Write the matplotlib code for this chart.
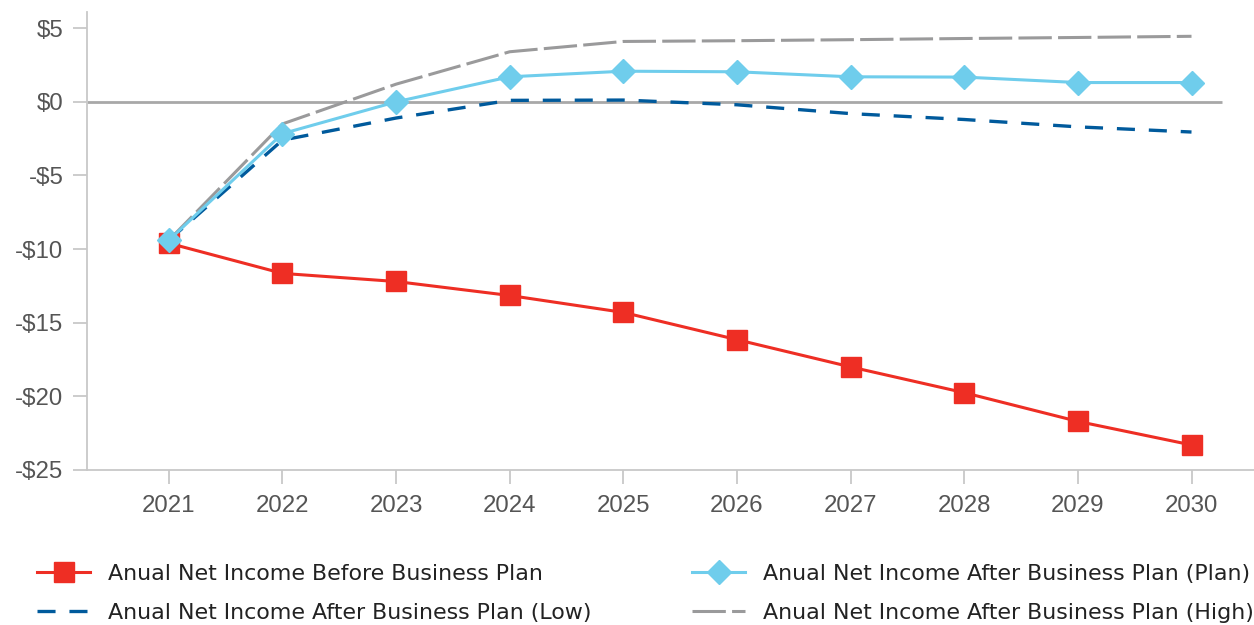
import matplotlib.pyplot as plt
from matplotlib.lines import Line2D

plt.rcParams['lines.scale_dashes'] = False
plt.rcParams['font.family'] = ['Liberation Sans', 'DejaVu Sans']

# Data (millions of dollars)
years = [2021, 2022, 2023, 2024, 2025, 2026, 2027, 2028, 2029, 2030]
before_plan = [-9.6, -11.65, -12.2, -13.15, -14.3, -16.15, -18.0, -19.75, -21.7, -23.3]
after_plan = [-9.4, -2.16, 0.0, 1.7, 2.08, 2.04, 1.7, 1.68, 1.31, 1.31]
after_low = [-9.4, -2.6, -1.1, 0.1, 0.12, -0.2, -0.8, -1.2, -1.7, -2.05]
after_high = [-9.4, -1.5, 1.2, 3.4, 4.1, 4.15, 4.22, 4.3, 4.37, 4.45]
yticks = [5, 0, -5, -10, -15, -20, -25]
ytick_labels = ['$5', '$0', '-$5', '-$10', '-$15', '-$20', '-$25']
labels = ['Anual Net Income Before Business Plan',
          'Anual Net Income After Business Plan (Low)',
          'Anual Net Income After Business Plan (Plan)',
          'Anual Net Income After Business Plan (High)']

red = '#EE2E24'
light_blue = '#6FCDEC'
dark_blue = '#005A9C'
gray = '#9A9A9B'
spine_gray = '#C8C8C8'

fig = plt.figure(figsize=(12.54, 6.25), dpi=100)
ax = fig.add_axes([87 / 1254, 1 - 470 / 625, 1 - 87 / 1254, (470 - 12) / 625])

# zero line
ax.hlines(0, 2020.28, 2030.27, color='#A8A8A8', lw=2.0, zorder=1)

ax.plot(years, after_high, color=gray, lw=2.2, dashes=(24, 4.5), zorder=2)
ax.plot(years, after_low, color=dark_blue, lw=2.4, dashes=(13, 10), zorder=2)
ax.plot(years, before_plan, color=red, lw=2.2, marker='s', ms=15, zorder=3)
ax.plot(years, after_plan, color=light_blue, lw=2.2, marker='D', ms=11.8, zorder=4)

ax.set_xlim(2020.28, 2030.55)
ax.set_ylim(-25, 6.1)
ax.set_xticks(years)
ax.set_xticklabels([str(y) for y in years])
ax.set_yticks(yticks)
ax.set_yticklabels(ytick_labels)

for side in ['top', 'right']:
    ax.spines[side].set_visible(False)
for side in ['left', 'bottom']:
    ax.spines[side].set_color(spine_gray)
    ax.spines[side].set_linewidth(1.3)
ax.tick_params(axis='both', length=10, width=1.3, color=spine_gray,
               labelcolor='#555555', labelsize=17.3)
ax.tick_params(axis='x', pad=8)
ax.tick_params(axis='y', pad=7)

# legend
h_before = Line2D([], [], color=red, lw=2.2, marker='s', ms=15)
h_low = Line2D([], [], color=dark_blue, lw=2.4, dashes=(13, 10))
h_plan = Line2D([], [], color=light_blue, lw=2.2, marker='D', ms=11.8)
h_high = Line2D([], [], color=gray, lw=2.2, dashes=(24, 4.5))

leg_kw = dict(loc='center left', frameon=False, handlelength=2.4,
              handletextpad=0.8, labelspacing=0.88, borderpad=0, borderaxespad=0,
              prop={'family': 'DejaVu Sans', 'size': 15.9})
leg1 = fig.legend([h_before, h_low], labels[:2], bbox_to_anchor=(37 / 1254, 1 - 593.5 / 625), **leg_kw)
leg2 = fig.legend([h_plan, h_high], labels[2:], bbox_to_anchor=(692 / 1254, 1 - 593.5 / 625), **leg_kw)
for leg in (leg1, leg2):
    for t in leg.get_texts():
        t.set_color('#222222')

fig.savefig('out.png', dpi=100)
